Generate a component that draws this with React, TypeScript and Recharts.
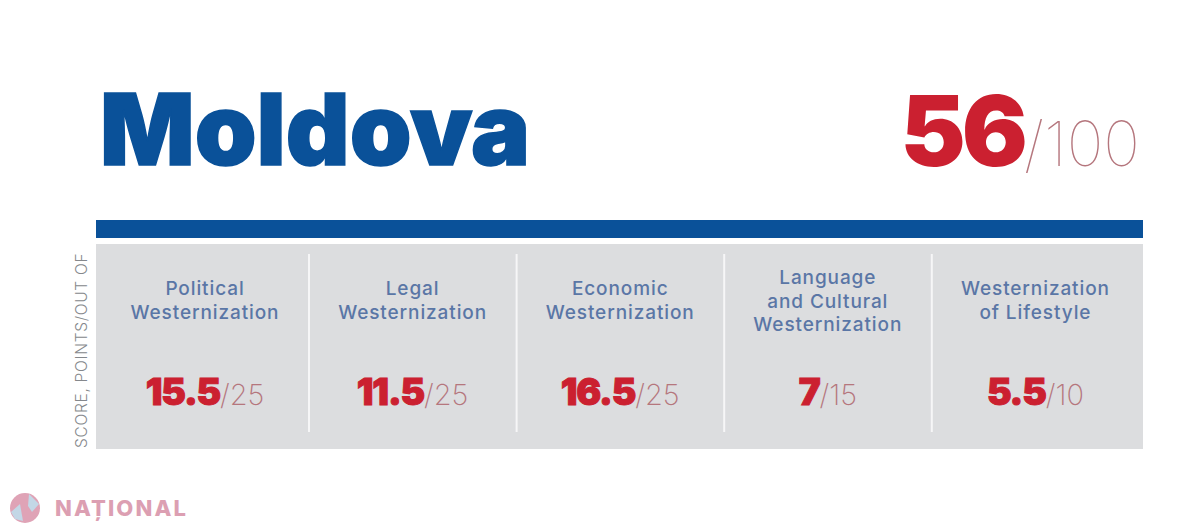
import { BarChart, Bar, XAxis, YAxis, CartesianGrid, Customized } from "recharts";

const countryName = "Moldova";
const totalScore = 56;
const totalMax = 100;
const axisTitle = "SCORE, POINTS/OUT OF";
const watermark = "NAȚIONAL";

const categories = [
  "Political Westernization",
  "Legal Westernization",
  "Economic Westernization",
  "Language and Cultural Westernization",
  "Westernization of Lifestyle",
];
const categoryLines = [
  ["Political", "Westernization"],
  ["Legal", "Westernization"],
  ["Economic", "Westernization"],
  ["Language", "and Cultural", "Westernization"],
  ["Westernization", "of Lifestyle"],
];
const scores = [15.5, 11.5, 16.5, 7, 5.5];
const maxScores = [25, 25, 25, 15, 10];

const data = categories.map((name, i) => ({ name, score: scores[i], max: maxScores[i], lines: categoryLines[i] }));

const BLUE = "#0a5199";
const RED = "#cb2030";
const LABEL_BLUE = "#5a76a6";
const THIN_RED = "#b5767d";
const PANEL = "#dcdddf";
const FONT = "Inter, sans-serif";

function ScoreCell(props: any) {
  const { background, index, payload } = props;
  const cx = background.x + background.width / 2;
  const top = background.y;
  const lines: string[] = payload.lines;
  const firstBaseline = lines.length === 3 ? top + 40 : top + 51;
  return (
    <g>
      {index < categories.length - 1 && (
        <line
          x1={background.x + background.width}
          x2={background.x + background.width}
          y1={top + 10}
          y2={top + 188}
          stroke="#f6f6f7"
          strokeWidth={2}
        />
      )}
      {lines.map((line, i) => (
        <text key={line} x={cx} y={firstBaseline + i * 23.5} textAnchor="middle" fontFamily={FONT} fontSize={19} fontWeight={500} letterSpacing={0.9} fill={LABEL_BLUE}>
          {line}
        </text>
      ))}
      <text x={cx} y={top + 161} textAnchor="middle" fontFamily={FONT}>
        <tspan fontSize={37} fontWeight={900} fill={RED} stroke={RED} strokeWidth={1} letterSpacing={-1.2}>{payload.score}</tspan>
        <tspan fontSize={29} fontWeight={200} fill={THIN_RED}>/{payload.max}</tspan>
      </text>
    </g>
  );
}

function Header() {
  return (
    <g>
      <text x={100} y={164.5} fontFamily={FONT} fontSize={99} fontWeight={900} fill={BLUE} stroke={BLUE} strokeWidth={1.5}>{countryName}</text>
      <text x={1140} y={166} textAnchor="end" fontFamily={FONT}>
        <tspan fontSize={98} fontWeight={900} fill={RED} letterSpacing={-4}>{totalScore}</tspan>
        <tspan fontSize={62} fontWeight={100} fill={THIN_RED}>/{totalMax}</tspan>
      </text>
      <circle cx={25} cy={508} r={15} fill="#dfa3b6" />
      <path d="M29 494 L39 504 L32 512 L28 506 Z" fill="#c3d7e6" />
      <path d="M11 512 L20 504 L23 521 L15 519 Z" fill="#c3d7e6" />
      <text x={55} y={516} fontFamily={FONT} fontSize={22} fontWeight={800} letterSpacing={2.1} fill="#dc9fb2">{watermark}</text>
    </g>
  );
}

function AxisTitle({ viewBox }: any) {
  const x = viewBox.x + viewBox.width / 2;
  const y = viewBox.y + viewBox.height;
  return (
    <text transform={`translate(${x + 5},${y - 1}) rotate(-90)`} fontFamily={FONT} fontSize={15.5} fontWeight={300} letterSpacing={0.7} fill="#85888c">
      {axisTitle}
    </text>
  );
}

export default function App() {
  return (
    <div style={{ position: "absolute", left: 0, top: 0, width: 1200, height: 529, background: "#fff" }}>
      <BarChart width={1200} height={529} data={data} barCategoryGap={0} margin={{ top: 229, right: 57, bottom: 80, left: 68 }}>
        <CartesianGrid horizontal={false} vertical={false} fill={PANEL} />
        <XAxis
          dataKey="name"
          orientation="top"
          height={15}
          padding={{ left: 5, right: 4 }}
          tick={false}
          tickLine={false}
          axisLine={{ stroke: BLUE, strokeWidth: 18, transform: "translate(0,-15)" }}
        />
        <YAxis domain={[0, 25]} width={28} tick={false} tickLine={false} axisLine={false} label={{ content: AxisTitle }} />
        <Bar dataKey="score" isAnimationActive={false} shape={ScoreCell} />
        <Customized component={Header} />
      </BarChart>
    </div>
  );
}
